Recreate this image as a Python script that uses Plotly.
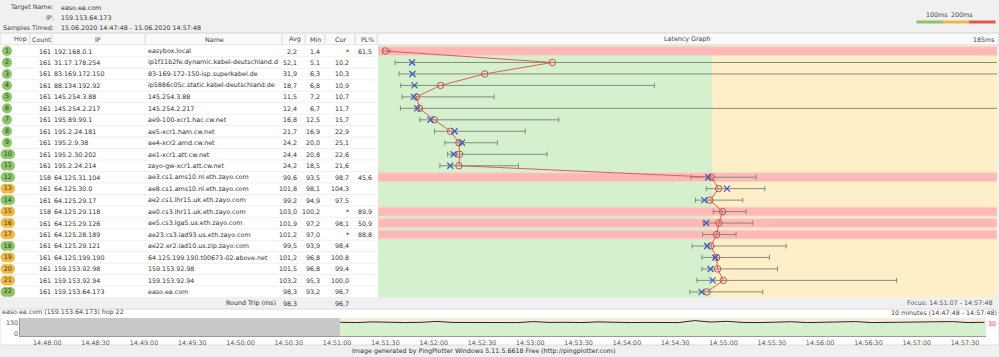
import plotly.graph_objects as go
import pandas as pd

W, H = 999, 357
FONT = "DejaVu Sans"
FS = 6.35
TXT = "#333333"

# ---------------- data ----------------
target_name = "easo.ea.com"
target_ip = "159.153.64.173"
samples_timed = "15.06.2020 14:47:48 - 15.06.2020 14:57:48"

hops = [1, 2, 3, 4, 5, 6, 7, 8, 9, 10, 11, 12, 13, 14, 15, 16, 17, 18, 19, 20, 21, 22]
counts = [161, 161, 161, 161, 161, 161, 161, 161, 161, 161, 161,
          158, 161, 161, 158, 161, 161, 161, 161, 161, 161, 161]
ips = ["192.168.0.1", "31.17.178.254", "83.169.172.150", "88.134.192.92", "145.254.3.88",
       "145.254.2.217", "195.89.99.1", "195.2.24.181", "195.2.9.38", "195.2.30.202",
       "195.2.24.214", "64.125.31.104", "64.125.30.0", "64.125.29.17", "64.125.29.118",
       "64.125.29.126", "64.125.28.189", "64.125.29.121", "64.125.199.190", "159.153.92.98",
       "159.153.92.94", "159.153.64.173"]
names = ["easybox.local", "ip1f11b2fe.dynamic.kabel-deutschland.d", "83-169-172-150-isp.superkabel.de",
         "ip5886c05c.static.kabel-deutschland.de", "145.254.3.88", "145.254.2.217",
         "ae9-100-xcr1.hac.cw.net", "ae5-xcr1.ham.cw.net", "ae4-xcr2.amd.cw.net",
         "ae1-xcr1.att.cw.net", "zayo-gw-xcr1.att.cw.net", "ae3.cs1.ams10.nl.eth.zayo.com",
         "ae8.cs1.ams10.nl.eth.zayo.com", "ae2.cs1.lhr15.uk.eth.zayo.com",
         "ae0.cs3.lhr11.uk.eth.zayo.com", "ae5.cs3.lga5.us.eth.zayo.com",
         "ae23.cs3.iad93.us.eth.zayo.com", "ae22.er2.iad10.us.zip.zayo.com",
         "64.125.199.190.t00673-02.above.net", "159.153.92.98", "159.153.92.94", "easo.ea.com"]
avg_ms = [2.2, 52.1, 31.9, 18.7, 11.5, 12.4, 16.8, 21.7, 24.2, 24.4, 24.2,
          99.6, 101.8, 99.2, 103.0, 101.9, 101.2, 99.5, 101.2, 101.5, 103.2, 98.3]
min_ms = [1.4, 5.1, 6.3, 6.8, 7.2, 6.7, 12.5, 16.9, 20.0, 20.8, 18.5,
          93.5, 98.1, 94.9, 100.2, 97.2, 97.0, 93.9, 96.8, 96.8, 95.3, 93.2]
cur_ms = [None, 10.2, 10.3, 10.9, 10.7, 11.7, 15.7, 22.9, 25.1, 22.6, 21.6,
          98.7, 104.3, 97.5, None, 98.1, None, 98.4, 100.8, 99.4, 100.0, 96.7]
max_ms = [3.6, 230.0, 215.0, 82.6, 34.7, 200.0, 54.0, 44.0, 35.7, 50.5, 42.0,
          113.0, 115.6, 109.0, 110.0, 112.0, 107.0, 122.0, 117.0, 119.4, 155.0, 115.0]
pl_pct = [61.5, 0, 0, 0, 0, 0, 0, 0, 0, 0, 0,
          45.6, 0, 0, 89.9, 50.9, 88.8, 0, 0, 0, 0, 0]

round_trip_avg = 98.3
round_trip_cur = 96.7
graph_max_ms = 185
threshold_ms = [100, 200]

timeline_start = "2020-06-15 14:47:48"
timeline_end = "2020-06-15 14:57:48"
focus_start = "2020-06-15 14:51:07"
timeline_ymax = 130
hop22_ms = [99, 97, 102, 98, 97, 99, 105, 98, 97, 101, 98, 97, 104, 98, 99, 97, 102, 98, 97, 98,
            99, 97, 111, 101, 106, 98, 97, 99, 103, 97, 98, 101, 104, 97, 98, 97, 101, 98, 104, 97, 99]
hop22_times = pd.date_range(start=focus_start, periods=len(hop22_ms), freq="10s")

col_headers = ["Hop", "Count", "IP", "Name", "Avg", "Min", "Cur", "PL%"]


def fmt(v):
    if v is None:
        return "*"
    return f"{v:.1f}".replace(".", ",")


def py(y):
    return 1 - y / H


# ---------------- geometry (pixels) ----------------
ROW0 = 51.0
ROWH = 11.47
ytop = ROW0 - ROWH / 2
ybot = ROW0 + 22.5 * ROWH
GX0, GX1 = 378, 997

fig = go.Figure()

# hop badges
green_b = "#8DC66A"
orange_b = "#F2B744"
bx, by, bc = [], [], []
for h, a in zip(hops, avg_ms):
    col = green_b if a < threshold_ms[0] else orange_b
    if h < 10:
        bx += [7]; by += [h]; bc += [col]
    else:
        bx += [5.5, 10]; by += [h, h]; bc += [col, col]
fig.add_trace(go.Scatter(x=bx, y=by, mode="markers", xaxis="x", yaxis="y",
                         marker=dict(symbol="circle", size=10, color=bc, line=dict(width=0)),
                         hoverinfo="skip", showlegend=False))
fig.add_trace(go.Scatter(x=[7 if h < 10 else 7.8 for h in hops], y=hops, mode="text",
                         text=[str(h) for h in hops], textposition="middle center",
                         textfont=dict(family=FONT, size=FS, color="#3a3a2a"),
                         xaxis="x", yaxis="y", hoverinfo="skip", showlegend=False))

# latency graph: error bars (min..max)
fig.add_trace(go.Scatter(
    x=avg_ms, y=hops, mode="markers", xaxis="x2", yaxis="y",
    marker=dict(size=1, opacity=0),
    error_x=dict(type="data", symmetric=False,
                 array=[mx - a for mx, a in zip(max_ms, avg_ms)],
                 arrayminus=[a - mn for a, mn in zip(avg_ms, min_ms)],
                 color="#868B78", thickness=1, width=2.5),
    hoverinfo="skip", showlegend=False))
# avg line and circles
fig.add_trace(go.Scatter(
    x=avg_ms, y=hops, mode="lines+markers", xaxis="x2", yaxis="y",
    line=dict(color="#D8605A", width=1),
    marker=dict(symbol="circle-open", size=6.5, color="#C4524A", line=dict(width=1)),
    hoverinfo="skip", showlegend=False))
# current values
fig.add_trace(go.Scatter(
    x=cur_ms, y=hops, mode="markers", xaxis="x2", yaxis="y",
    marker=dict(symbol="x-thin-open", size=6, color="#3C5CC0", line=dict(width=1.3, color="#3C5CC0")),
    hoverinfo="skip", showlegend=False))

# timeline
fig.add_trace(go.Scatter(
    x=hop22_times, y=hop22_ms, mode="lines", xaxis="x3", yaxis="y3",
    line=dict(color="#222222", width=1), hoverinfo="skip", showlegend=False))

shapes = []
# background blocks (paper)
shapes.append(dict(type="rect", xref="paper", yref="paper", x0=0, x1=1, y0=py(45), y1=py(33),
                    fillcolor="#FAFAFA", line=dict(color="#D4D4D4", width=1), layer="below"))
shapes.append(dict(type="rect", xref="paper", yref="paper", x0=0, x1=GX0 / W, y0=py(ybot - ROWH), y1=py(45),
                    fillcolor="#FFFFFF", line=dict(width=0), layer="below"))
shapes.append(dict(type="rect", xref="paper", yref="paper", x0=0, x1=1, y0=py(345), y1=py(ybot),
                    fillcolor="#FFFFFF", line=dict(color="#DDDDDD", width=1), layer="below"))
for sx in [30, 52, 145, 282, 305, 325, 355, 377]:
    shapes.append(dict(type="line", xref="paper", yref="paper", x0=sx / W, x1=sx / W, y0=py(44), y1=py(34),
                        line=dict(color="#D8D8D8", width=1), layer="below"))
# row separators in table
for h in hops:
    shapes.append(dict(type="line", xref="x", yref="y", x0=0, x1=377, y0=h + 0.5, y1=h + 0.5,
                        line=dict(color="#F0F0F0", width=1), layer="below"))
# latency zones
shapes.append(dict(type="rect", xref="x2", yref="y", x0=0, x1=threshold_ms[0], y0=0.5, y1=22.5,
                    fillcolor="#D5F0CC", line=dict(width=0), layer="below"))
shapes.append(dict(type="rect", xref="x2", yref="y", x0=threshold_ms[0], x1=graph_max_ms, y0=0.5, y1=22.5,
                    fillcolor="#FEEFC9", line=dict(width=0), layer="below"))
for h, p in zip(hops, pl_pct):
    if p > 0:
        shapes.append(dict(type="rect", xref="x2", yref="y", x0=0, x1=graph_max_ms, y0=h - 0.38, y1=h + 0.38,
                            fillcolor="#FFB8B8", line=dict(color="#F6D3C6", width=1), layer="below"))
# legend bar
for x0, x1, c in [(916.5, 943, "#8DC46A"), (943, 969, "#F2B440"), (969, 995.5, "#E6574B")]:
    shapes.append(dict(type="rect", xref="paper", yref="paper", x0=x0 / W, x1=x1 / W, y0=py(23.5), y1=py(20.5),
                        fillcolor=c, line=dict(width=0), layer="below"))
# timeline zones
shapes.append(dict(type="rect", xref="x3", yref="y3", x0=timeline_start, x1=focus_start, y0=0, y1=timeline_ymax,
                    fillcolor="#C8C8C8", line=dict(width=0), layer="below"))
shapes.append(dict(type="rect", xref="x3", yref="y3", x0=focus_start, x1=timeline_end, y0=0, y1=threshold_ms[0],
                    fillcolor="#D6F0CE", line=dict(width=0), layer="below"))
shapes.append(dict(type="rect", xref="x3", yref="y3", x0=focus_start, x1=timeline_end, y0=threshold_ms[0],
                    y1=timeline_ymax, fillcolor="#FCE8DC", line=dict(width=0), layer="below"))

ann = []


def A(x, y, text, xanchor="left", xref="paper", yref="paper", color=TXT, size=FS, yanchor="middle"):
    if xref == "paper":
        x = x / W
    if yref == "paper":
        y = py(y)
    ann.append(dict(x=x, y=y, xref=xref, yref=yref, text=text, showarrow=False, xanchor=xanchor,
                    yanchor=yanchor, borderpad=0, borderwidth=0,
                    font=dict(family=FONT, size=size, color=color)))


# header info
A(54, 7, "Target Name:", "right", color="#444")
A(61, 7, target_name)
A(54, 17.5, "IP:", "right", color="#444")
A(61, 17.5, target_ip)
A(54, 28, "Samples Timed:", "right", color="#444")
A(61, 28, samples_timed)
A(937, 15, f"{threshold_ms[0]}ms", "center", color="#444")
A(962, 15, f"{threshold_ms[1]}ms", "center", color="#444")

# column headers
for txt, cx in zip(col_headers, [20, 41, 98, 214, 295, 315, 340, 367]):
    A(cx, 39, txt, "center", color="#444")
A((GX0 + GX1) / 2, 39, "Latency Graph", "center", color="#444")
A(995, 39, f"{graph_max_ms}ms", "right", color="#444")

# table rows
for h, c, ip, nm, a, mn, cu, p in zip(hops, counts, ips, names, avg_ms, min_ms, cur_ms, pl_pct):
    A(51, h, str(c), "right", xref="x", yref="y")
    A(53.5, h, ip, "left", xref="x", yref="y")
    A(147.5, h, nm, "left", xref="x", yref="y")
    A(297, h, fmt(a), "right", xref="x", yref="y")
    A(319.5, h, fmt(mn), "right", xref="x", yref="y")
    A(349, h, fmt(cu), "right", xref="x", yref="y")
    if p > 0:
        A(372, h, fmt(p), "right", xref="x", yref="y")

# round trip row
A(276, 23, "Round Trip (ms)", "right", xref="x", yref="y")
A(297, 23, fmt(round_trip_avg), "right", xref="x", yref="y")
A(349, 23, fmt(round_trip_cur), "right", xref="x", yref="y")
A(993, 302.5, "Focus: 14:51:07 - 14:57:48", "right", color="#555")

# timeline labels
A(2, 311.5, f"{target_name} ({target_ip}) hop 22", "left", color="#444")
A(997, 312.5, "10 minutes (14:47:48 - 14:57:48)", "right", color="#444")
A(17.5, 322, str(timeline_ymax), "right", color="#555")
A(17.5, 333, "0", "right", color="#555")
A(988, 323.5, "30", "left", color="#E03A30")

# footer
A(483, 350.5, "Image generated by PingPlotter Windows 5.11.5.6618 Free (http://pingplotter.com)", "center",
  color="#333")

hidden = dict(visible=False, fixedrange=True)
fig.update_layout(
    width=W, height=H, margin=dict(l=0, r=0, t=0, b=0),
    paper_bgcolor="#F0F0F0", plot_bgcolor="rgba(0,0,0,0)",
    font=dict(family=FONT, size=FS, color=TXT),
    showlegend=False,
    xaxis=dict(domain=[0, GX0 / W], range=[0, GX0], anchor="y", **hidden),
    yaxis=dict(domain=[py(ybot), py(ytop)], range=[23.5, 0.5], anchor="x", **hidden),
    xaxis2=dict(domain=[GX0 / W, GX1 / W], range=[0, graph_max_ms], anchor="y", **hidden),
    xaxis3=dict(domain=[20 / W, 986 / W], anchor="y3", type="date",
                range=[timeline_start, timeline_end], tickformat="%H:%M:%S",
                tick0="2020-06-15 14:48:00", dtick=30000, ticks="", ticklabelshift=8,
                showgrid=False, zeroline=False, showline=True, linecolor="#9A9A9A", linewidth=1,
                tickfont=dict(family=FONT, size=FS, color="#555"), fixedrange=True),
    yaxis3=dict(domain=[py(336), py(318)], anchor="x3", range=[0, timeline_ymax],
                showticklabels=False, ticks="", showgrid=False, zeroline=False,
                showline=True, linecolor="#9A9A9A", linewidth=1, fixedrange=True),
    shapes=shapes, annotations=ann,
)

fig.write_html("out.html", config=dict(displayModeBar=False))
